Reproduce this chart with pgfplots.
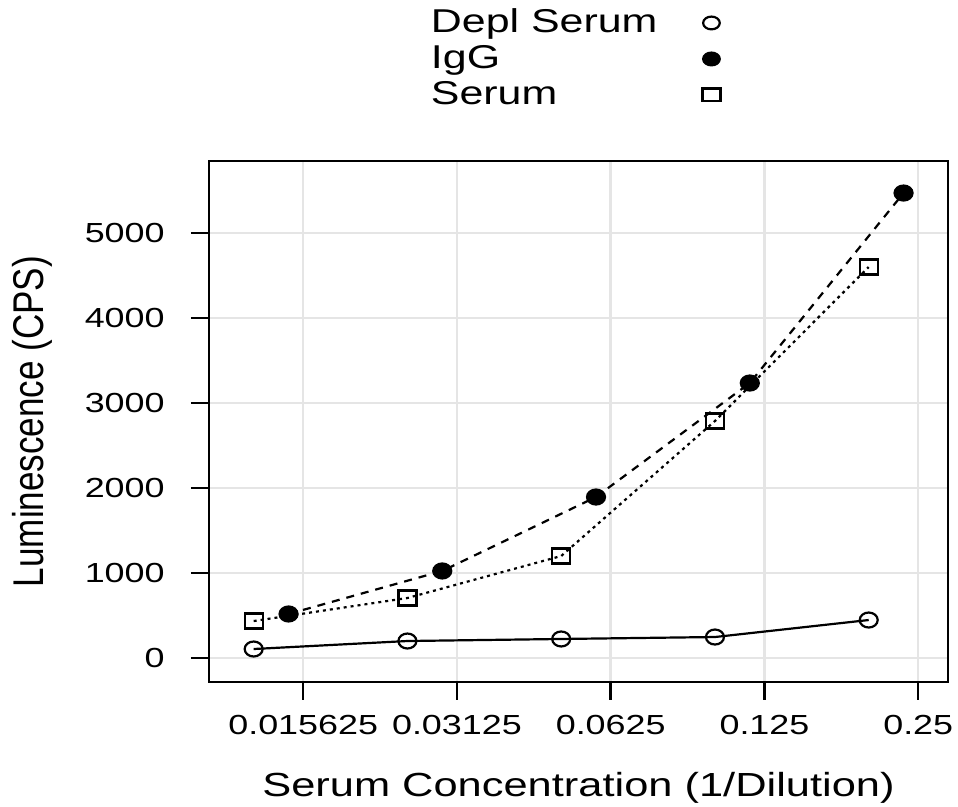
\documentclass[border=0pt]{standalone}
\usepackage{fontspec}
\setmainfont{Liberation Sans}[FakeStretch=1.3]
\newfontfamily\ylabfont{Liberation Sans}[FakeStretch=0.815]
\usepackage{pgfplots}
\pgfplotsset{compat=1.18}
\pgfplotsset{markleg/.style={legend image code/.code={\draw[##1] plot coordinates {(0pt,1pt)};}}}
\begin{document}
\begin{tikzpicture}
\useasboundingbox (-104.5pt,-62.5pt) rectangle (374.5pt,341pt);
\begin{axis}[
  scale only axis, width=369.5pt, height=260.5pt,
  xmode=log, log basis x=2,
  xmin=0.01022, xmax=0.2859, ymin=-282, ymax=5847,
  xtick={0.015625,0.03125,0.0625,0.125,0.25},
  xticklabels={0.015625,0.03125,0.0625,0.125,0.25},
  ytick={0,1000,2000,3000,4000,5000},
  yticklabels={0,1000,2000,3000,4000,5000},
  /pgf/number format/assume math mode=true,
  tick pos=left, tick align=outside, major tick length=9pt,
  grid=major, major grid style={draw=gray!20, line width=1.2pt},
  axis line style={line width=1.2pt},
  every tick/.style={black, line width=1.2pt},
  tick label style={font=\fontsize{13.8}{14}\selectfont, inner sep=0pt},
  xticklabel style={anchor=base, yshift=-17.5pt},
  yticklabel style={anchor=east, xshift=-13pt},
  xlabel={Serum Concentration (1/Dilution)},
  xlabel style={at={(axis description cs:0.5,-0.2207)}, anchor=base, inner sep=0pt, font=\fontsize{16.7}{20}\selectfont},
  ylabel={Luminescence (CPS)},
  ylabel style={at={(axis description cs:-0.2233,0.5)}, anchor=base, inner sep=0pt, rotate=0, font=\ylabfont\fontsize{21.5}{24}\selectfont},
  legend style={draw=none, fill=none, at={(axis description cs:0.295,1.2956)}, anchor=north west, inner sep=0pt, outer sep=0pt, row sep=0pt, column sep=20.5pt, font=\fontsize{16.5}{16.5}\selectfont, nodes={text height=11pt, text depth=3pt}},
  legend cell align=left, legend plot pos=right,
]
\addplot[black, solid, line width=1.1pt, mark=o, mark size=3.75pt, mark options={xscale=1.2, solid}, forget plot]
  coordinates {(0.0125,106) (0.025,200) (0.05,224) (0.1,247) (0.2,447)};
\addplot[black, line width=1.1pt, dash pattern=on 4pt off 3.5pt, mark=*, mark size=3.75pt, mark options={xscale=1.2, solid, fill=black}, forget plot]
  coordinates {(0.01463,518) (0.02925,1024) (0.0585,1894) (0.117,3235) (0.234,5470)};
\addplot[black, line width=1.1pt, dash pattern=on 1.5pt off 2pt, mark=square, mark size=3.75pt, mark options={xscale=1.2, solid}, forget plot]
  coordinates {(0.0125,435) (0.025,706) (0.05,1200) (0.1,2788) (0.2,4600)};
\addlegendimage{markleg, black, only marks, mark=o, mark size=3.2pt, line width=1.1pt, mark options={xscale=1.3}}
\addlegendentry{Depl Serum}
\addlegendimage{markleg, black, only marks, mark=*, mark size=3.2pt, line width=1.1pt, mark options={xscale=1.3, fill=black}}
\addlegendentry{IgG}
\addlegendimage{markleg, black, only marks, mark=square, mark size=3.2pt, line width=1.1pt, mark options={xscale=1.4}}
\addlegendentry{Serum}
\end{axis}
\end{tikzpicture}
\end{document}
